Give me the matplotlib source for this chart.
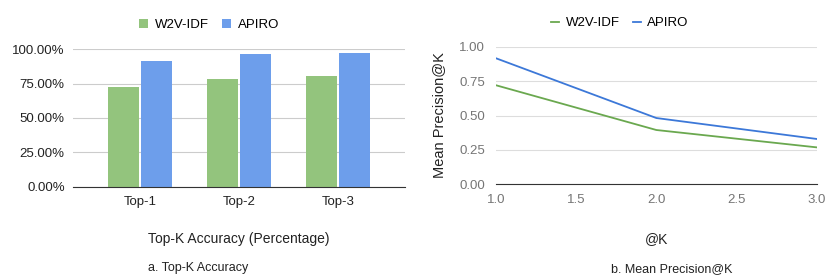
import numpy as np
import matplotlib
matplotlib.use('Agg')
import matplotlib.pyplot as plt
from matplotlib.ticker import FuncFormatter

plt.rcParams['font.family'] = ['Liberation Sans', 'DejaVu Sans']

# top-k accuracy (percent)
categories = ['Top-1', 'Top-2', 'Top-3']
acc_w2v = [72.3, 78.4, 80.3]
acc_apiro = [91.5, 96.6, 97.1]

# mean precision@k
k_vals = [1.0, 2.0, 3.0]
prec_w2v = [0.72, 0.395, 0.269]
prec_apiro = [0.916, 0.482, 0.33]

fig = plt.figure(figsize=(8.31, 2.77), dpi=100)
W, H = 831, 277

def box(x0, y0, x1, y1):
    return [x0 / W, 1 - y1 / H, (x1 - x0) / W, (y1 - y0) / H]

# ---- left: bars
ax1 = fig.add_axes(box(73, 49.3, 405, 186.7))
x = np.arange(len(categories))
w = 0.31
b1 = ax1.bar(x - w / 2 - 0.01, acc_w2v, w, color='#93c47d', label='W2V-IDF')
b2 = ax1.bar(x + w / 2 + 0.01, acc_apiro, w, color='#6d9eeb', label='APIRO')
ax1.set_xlim(-0.677, 2.677)
ax1.set_ylim(0, 100)
ax1.set_yticks([0, 25, 50, 75, 100])
ax1.yaxis.set_major_formatter(FuncFormatter(lambda v, p: f'{v:.2f}%'))
ax1.set_xticks(x)
ax1.set_xticklabels(categories)
ax1.grid(axis='y', color='#cccccc', lw=0.8)
ax1.set_axisbelow(True)
for s in ['top', 'right', 'left']:
    ax1.spines[s].set_visible(False)
ax1.spines['bottom'].set_color('#333333')
ax1.tick_params(length=0, labelsize=9.5, colors='#222222')
ax1.tick_params(axis='y', pad=6)
ax1.tick_params(axis='x', pad=7)
ax1.set_xlabel('Top-K Accuracy (Percentage)', fontsize=10, color='#222222', labelpad=17)
fig.legend(handles=[b1, b2], loc='center', bbox_to_anchor=(209 / W, 1 - 25 / H),
           ncol=2, frameon=False, fontsize=9.5, handlelength=0.7, handleheight=0.7,
           handletextpad=0.5, columnspacing=1.0)
fig.text(148 / W, 1 - 268 / H, 'a. Top-K Accuracy', fontsize=9, color='#222222',
         ha='left', va='center')

# ---- right: lines
ax2 = fig.add_axes(box(496, 46.7, 816.7, 184.4))
l1, = ax2.plot(k_vals, prec_w2v, color='#6aa84f', lw=1.3, label='W2V-IDF')
l2, = ax2.plot(k_vals, prec_apiro, color='#3c78d8', lw=1.3, label='APIRO')
ax2.set_xlim(1.0, 3.0)
ax2.set_ylim(0, 1.0)
ax2.set_yticks([0, 0.25, 0.5, 0.75, 1.0])
ax2.yaxis.set_major_formatter(FuncFormatter(lambda v, p: f'{v:.2f}'))
ax2.set_xticks([1.0, 1.5, 2.0, 2.5, 3.0])
ax2.xaxis.set_major_formatter(FuncFormatter(lambda v, p: f'{v:.1f}'))
ax2.grid(axis='y', color='#dddddd', lw=0.8)
ax2.set_axisbelow(True)
for s in ['top', 'right', 'left']:
    ax2.spines[s].set_visible(False)
ax2.spines['bottom'].set_color('#333333')
ax2.tick_params(length=0, labelsize=9.5, colors='#757575')
ax2.tick_params(axis='y', pad=8)
ax2.tick_params(axis='x', pad=7)
ax2.set_xlabel('@K', fontsize=10, color='#222222', labelpad=19)
ax2.set_ylabel('Mean Precision@K', fontsize=10.5, color='#222222', labelpad=9)
fig.legend(handles=[l1, l2], loc='center', bbox_to_anchor=(620 / W, 1 - 23 / H),
           ncol=2, frameon=False, fontsize=9.5, handlelength=0.6,
           handletextpad=0.5, columnspacing=1.0)
fig.text(672 / W, 1 - 269 / H, 'b. Mean Precision@K', fontsize=9, color='#222222',
         ha='center', va='center')

fig.savefig('out.png', dpi=100)
